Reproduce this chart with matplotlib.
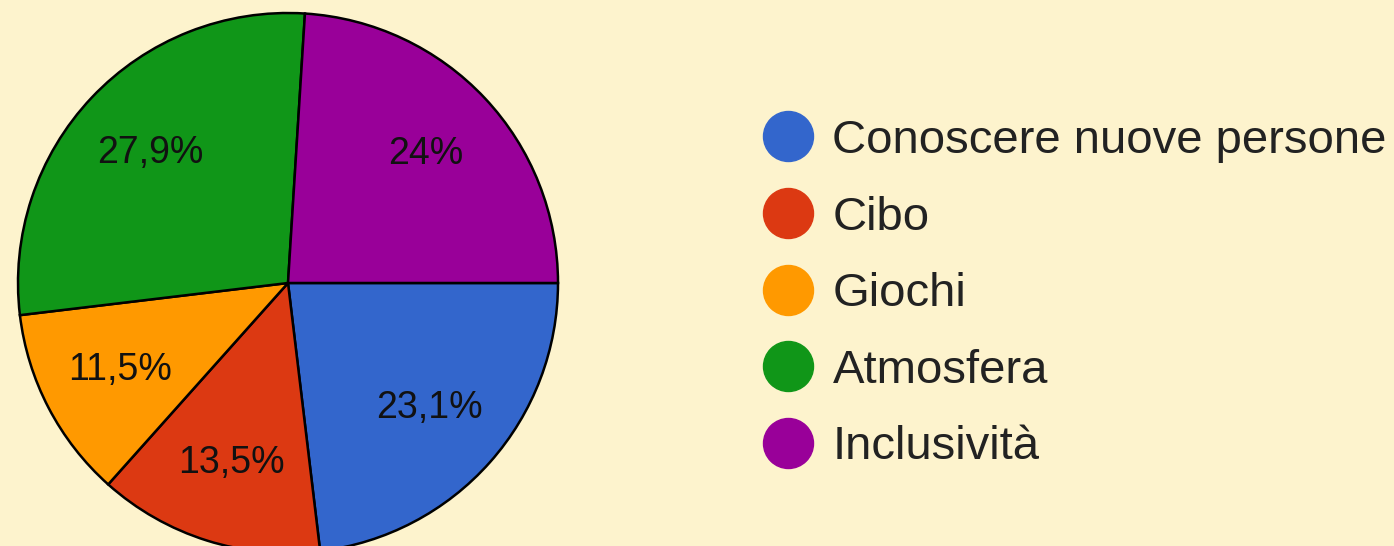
import matplotlib.pyplot as plt
import numpy as np
from matplotlib.lines import Line2D

# survey answers (share of responses, %)
labels = ["Conoscere nuove persone", "Cibo", "Giochi", "Atmosfera", "Inclusività"]
values = [23.1, 13.5, 11.5, 27.9, 24.0]
pct_text = ["23,1%", "13,5%", "11,5%", "27,9%", "24%"]
colors = ["#3366CC", "#DC3912", "#FF9900", "#109618", "#990099"]

BG = "#FDF3CD"
W, H = 1394, 546
CX, CY, R = 288, H - 283, 270

plt.rcParams["font.family"] = ["Liberation Sans", "DejaVu Sans"]

fig = plt.figure(figsize=(W / 100, H / 100), dpi=100, facecolor=BG)
ax = fig.add_axes([0, 0, 1, 1])
ax.set_facecolor(BG)

wedges, texts = ax.pie(
    values,
    colors=colors,
    startangle=0,
    counterclock=False,
    center=(CX, CY),
    radius=R,
    wedgeprops=dict(edgecolor="black", linewidth=1.8),
    frame=True,
)
ax.set_xlim(0, W)
ax.set_ylim(0, H)
ax.set_aspect("equal")
ax.axis("off")

# percentage labels inside the wedges
total = sum(values)
start = 0.0
for v, t in zip(values, pct_text):
    mid = np.deg2rad(start - v / total * 360 / 2)
    start -= v / total * 360
    x = CX + 0.70 * R * np.cos(mid)
    y = CY + 0.70 * R * np.sin(mid)
    ax.text(x, y, t, ha="center", va="center", fontsize=27, color="#111111")

handles = [
    Line2D([], [], linestyle="none", marker="o", markersize=36,
           markerfacecolor=c, markeredgecolor=c)
    for c in colors
]
leg = fig.legend(
    handles, labels,
    loc="upper left",
    bbox_to_anchor=(764 / W, 1 - 119 / H),
    frameon=False,
    fontsize=34,
    handlelength=1.0,
    handletextpad=0.45,
    labelspacing=0.69,
    borderpad=0,
    borderaxespad=0,
)
for t in leg.get_texts():
    t.set_color("#222222")

fig.savefig("out.png", dpi=100, facecolor=BG)
